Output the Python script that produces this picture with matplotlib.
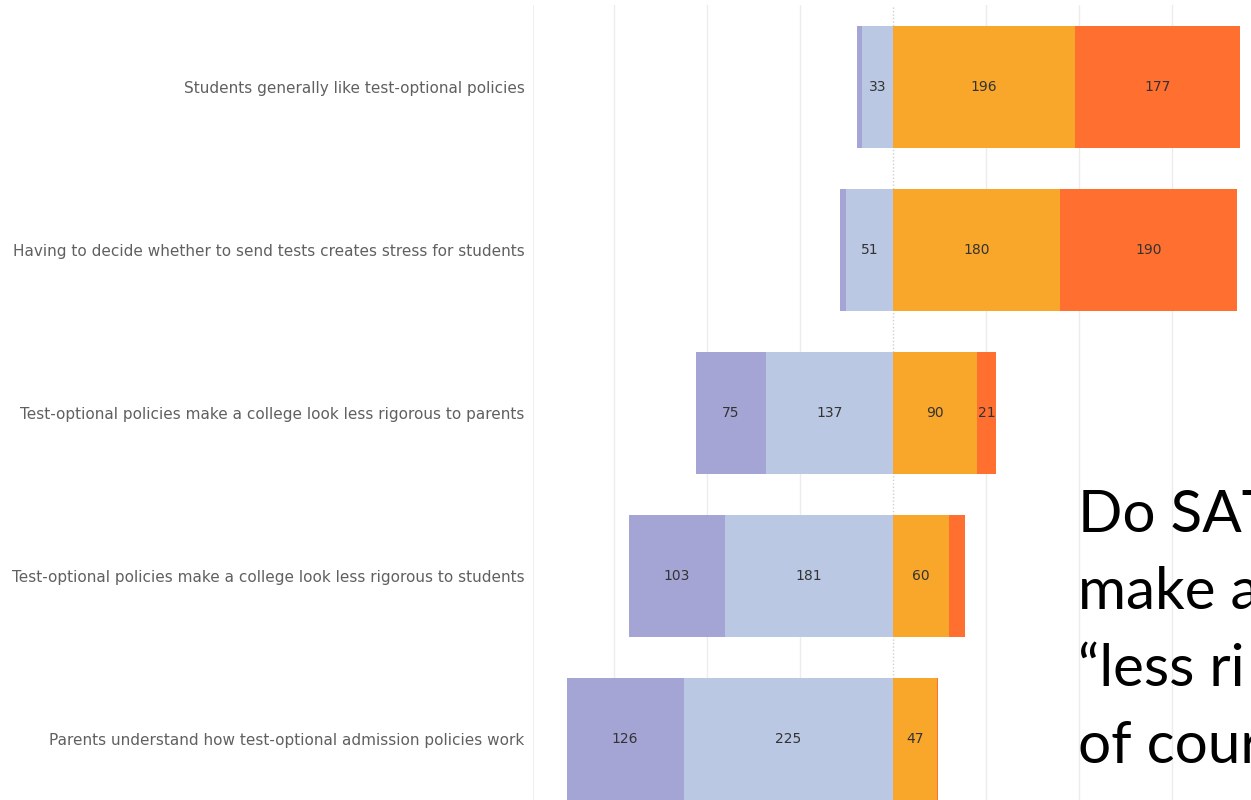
import matplotlib.pyplot as plt
import numpy as np

# Survey statements (top to bottom)
statements = [
    'Students generally like test-optional policies',
    'Having to decide whether to send tests creates stress for students',
    'Test-optional policies make a college look less rigorous to parents',
    'Test-optional policies make a college look less rigorous to students',
    'Parents understand how test-optional admission policies work',
]

# Response counts per statement
strongly_disagree = [6, 6, 75, 103, 126]
disagree = [33, 51, 137, 181, 225]
agree = [196, 180, 90, 60, 47]
strongly_agree = [177, 190, 21, 17, 1]

# Which segments show a number
show_sd = [False, False, True, True, True]
show_d = [True, True, True, True, True]
show_a = [True, True, True, True, True]
show_sa = [True, True, True, False, False]

slide_text = ['Do SAT', 'make a', '\u201cless ri', 'of cour']

c_sd = '#a5a5d5'
c_d = '#bac8e3'
c_a = '#f8a72b'
c_sa = '#ff6f30'

W, H = 1251, 800
fig = plt.figure(figsize=(W / 100, H / 100), dpi=100)
px_per_unit = 0.93
center_px = 893
left_px = 533
ax = fig.add_axes([left_px / W, 0, 1 - left_px / W, 795 / H])
ax.set_xlim((left_px - center_px) / px_per_unit, (W - center_px) / px_per_unit)
ax.set_ylim(4.374, -0.503)

y = np.arange(len(statements))
sd = np.array(strongly_disagree)
d = np.array(disagree)
a = np.array(agree)
sa = np.array(strongly_agree)

# gridlines
for gx in [-300, -200, -100, 100, 200, 300]:
    ax.axvline(gx, color='#ececec', lw=1, zorder=0)
ax.axvline(0, color='#d0d0d0', lw=1, ls=(0, (1, 1.5)), zorder=0)
ax.axvline((left_px - center_px) / px_per_unit + 0.5, color='#ececec', lw=1.2, zorder=0)

h = 0.75
ax.barh(y, -d, left=0, height=h, color=c_d, zorder=2)
ax.barh(y, -sd, left=-d, height=h, color=c_sd, zorder=2)
ax.barh(y, a, left=0, height=h, color=c_a, zorder=2)
ax.barh(y, sa, left=a, height=h, color=c_sa, zorder=2)

lab = dict(ha='center', va='center', fontsize=10, color='#333333', zorder=3)
for i in range(len(statements)):
    if show_sd[i]:
        ax.text(-d[i] - sd[i] / 2, y[i], str(sd[i]), **lab)
    if show_d[i]:
        ax.text(-d[i] / 2, y[i], str(d[i]), **lab)
    if show_a[i]:
        ax.text(a[i] / 2, y[i], str(a[i]), **lab)
    if show_sa[i]:
        ax.text(a[i] + sa[i] / 2, y[i], str(sa[i]), **lab)

ax.set_yticks(y)
ax.set_yticklabels(statements, fontsize=11, color='#606060')
ax.tick_params(axis='y', length=0, pad=6)
ax.set_xticks([])
for s in ax.spines.values():
    s.set_visible(False)

# overlaid slide text
for k, line in enumerate(slide_text):
    fig.text(1078 / W, 1 - (532 + 77 * k) / H, line, fontsize=42, family='Lato',
             color='black', ha='left', va='baseline')

fig.savefig('out.png', dpi=100)
